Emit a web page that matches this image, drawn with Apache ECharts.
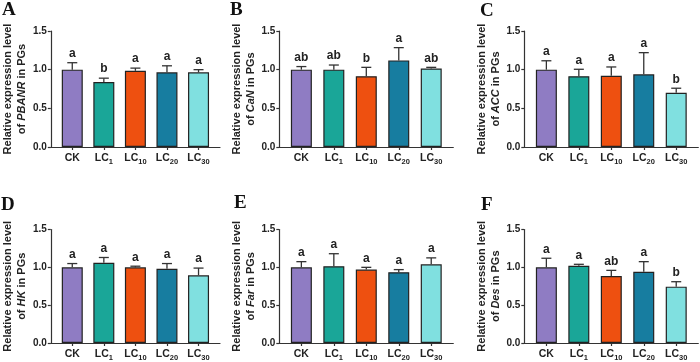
<!DOCTYPE html>
<html>
<head>
<meta charset="utf-8">
<script src="https://cdn.jsdelivr.net/npm/echarts@6/dist/echarts.min.js"></script>
<style>
  html, body { margin: 0; padding: 0; background: #fff; }
  #chart { width: 700px; height: 362px; }
</style>
</head>
<body>
<div id="chart"></div>
<script>
// groups on the x axis (LC subscripts kept apart for rich text)
const groups = ['CK', 'LC', 'LC', 'LC', 'LC'];
const groupSubs = ['', '1', '10', '20', '30'];
const genes = ['PBANR', 'CaN', 'ACC', 'HK', 'Far', 'Des'];
const panelNames = ['A', 'B', 'C', 'D', 'E', 'F'];
const barColors = ['#8f7cc3', '#1aa698', '#ee5010', '#177da0', '#80e0e0'];

// relative expression (mean), SD and significance letters per panel
const meanA = [1.0, 0.84, 0.985, 0.965, 0.965];
const errA = [0.09, 0.05, 0.035, 0.085, 0.035];
const sigA = ['a', 'b', 'a', 'a', 'a'];

const meanB = [1.0, 1.0, 0.915, 1.12, 1.015];
const errB = [0.04, 0.06, 0.115, 0.165, 0.015];
const sigB = ['ab', 'ab', 'b', 'a', 'ab'];

const meanC = [1.0, 0.915, 0.92, 0.94, 0.70];
const errC = [0.115, 0.09, 0.115, 0.28, 0.06];
const sigC = ['a', 'a', 'a', 'a', 'b'];

const meanD = [1.0, 1.06, 1.0, 0.98, 0.895];
const errD = [0.05, 0.07, 0.015, 0.07, 0.095];
const sigD = ['a', 'a', 'a', 'a', 'a'];

const meanE = [1.0, 1.015, 0.97, 0.935, 1.04];
const errE = [0.075, 0.165, 0.03, 0.035, 0.085];
const sigE = ['a', 'a', 'a', 'a', 'a'];

const meanF = [1.0, 1.02, 0.885, 0.94, 0.745];
const errF = [0.12, 0.02, 0.075, 0.135, 0.065];
const sigF = ['a', 'a', 'ab', 'a', 'b'];

const means = [meanA, meanB, meanC, meanD, meanE, meanF];
const errs = [errA, errB, errC, errD, errE, errF];
const sigs = [sigA, sigB, sigC, sigD, sigE, sigF];

const font = 'Arial, "Liberation Sans", sans-serif';
const ink = '#222';

const lefts = [46, 279.3, 524.3];
const tops = [31, 229.5];
const letterPos = [[2, 1], [230, 1], [480, 2], [1, 196], [234, 194], [481, 196]];

const grids = [], xAxes = [], yAxes = [], series = [], graphics = [];

genes.forEach((gene, p) => {
  grids.push({
    left: lefts[p % 3], top: tops[Math.floor(p / 3)],
    width: 174, height: 116, containLabel: false
  });

  xAxes.push({
    gridIndex: p, type: 'value', min: -0.68, max: 4.68,
    splitLine: { show: false },
    axisLine: { onZero: false, lineStyle: { color: '#333', width: 1.2 } },
    axisTick: { customValues: [0, 1, 2, 3, 4], length: 3, lineStyle: { color: '#333', width: 1.2 } },
    axisLabel: {
      customValues: [0, 1, 2, 3, 4],
      margin: 6,
      formatter: v => groupSubs[v] ? '{n|' + groups[v] + '}{s|' + groupSubs[v] + '}' : '{n|' + groups[v] + '}',
      rich: {
        n: { fontSize: 10.5, fontWeight: 'bold', fontFamily: font, color: ink, verticalAlign: 'top' },
        s: { fontSize: 7.5, fontWeight: 'bold', fontFamily: font, color: ink, padding: [5, 0, 0, 0], verticalAlign: 'top' }
      }
    }
  });

  yAxes.push({
    gridIndex: p, type: 'value', min: 0, max: 1.5, interval: 0.5,
    splitLine: { show: false },
    axisLine: { show: true, onZero: false, lineStyle: { color: '#333', width: 1.2 } },
    axisTick: { show: true, length: 3, lineStyle: { color: '#333', width: 1.2 } },
    axisLabel: {
      margin: 4, fontSize: 10, fontWeight: 'bold', fontFamily: font, color: ink,
      formatter: v => v.toFixed(1)
    },
    name: '{t|Relative expression level}\n{t|of }{i|' + gene + '}{t| in PGs}',
    nameLocation: 'middle', nameGap: 19, nameRotate: 90,
    nameTextStyle: {
      lineHeight: 14,
      rich: {
        t: { fontSize: 11, fontWeight: 'bold', fontFamily: font, color: ink, lineHeight: 14 },
        i: { fontSize: 11, fontWeight: 'bold', fontStyle: 'italic', fontFamily: font, color: ink, lineHeight: 14 }
      }
    }
  });

  series.push({
    type: 'bar', xAxisIndex: p, yAxisIndex: p, barWidth: 21,
    data: means[p].map((v, i) => ({
      value: [i, v],
      itemStyle: { color: barColors[i], borderColor: '#222', borderWidth: 1.2 }
    }))
  });

  series.push({
    type: 'custom', xAxisIndex: p, yAxisIndex: p, z: 3,
    data: means[p].map((v, i) => [i, v, errs[p][i], sigs[p][i]]),
    renderItem: (params, api) => {
      const i = api.value(0), m = api.value(1), e = api.value(2);
      const base = api.coord([i, m]);
      const top = api.coord([i, m + e]);
      const stroke = { stroke: '#333', lineWidth: 1.3 };
      return {
        type: 'group',
        children: [
          { type: 'line', shape: { x1: base[0], y1: base[1], x2: top[0], y2: top[1] }, style: stroke },
          { type: 'line', shape: { x1: top[0] - 5, y1: top[1], x2: top[0] + 5, y2: top[1] }, style: stroke },
          {
            type: 'text', x: top[0], y: top[1] - 3,
            style: {
              text: sigs[p][params.dataIndex], align: 'center', verticalAlign: 'bottom',
              fontSize: 12, fontWeight: 'bold', fontFamily: font, fill: ink
            }
          }
        ]
      };
    }
  });

  graphics.push({
    type: 'text', left: letterPos[p][0], top: letterPos[p][1],
    style: {
      text: panelNames[p], fontSize: 19, fontWeight: 'bold',
      fontFamily: '"Liberation Serif", "Times New Roman", serif', fill: '#111'
    }
  });
});

const chart = echarts.init(document.getElementById('chart'));
chart.setOption({
  backgroundColor: '#fff',
  animation: false,
  grid: grids,
  xAxis: xAxes,
  yAxis: yAxes,
  series: series,
  graphic: graphics
});
</script>
</body>
</html>
